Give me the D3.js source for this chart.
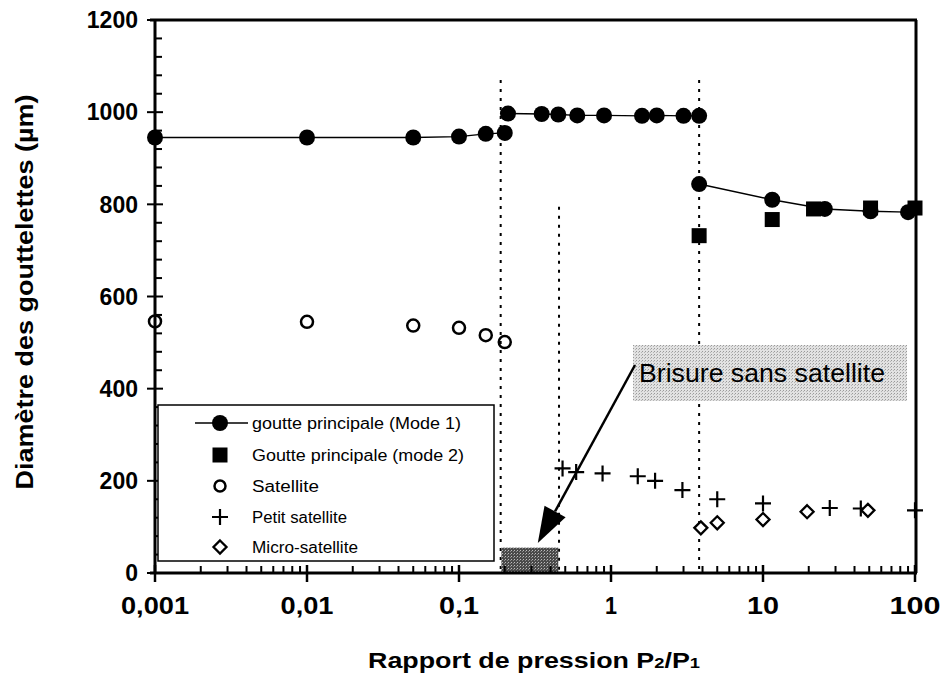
<!DOCTYPE html>
<html><head><meta charset="utf-8">
<script src="https://cdn.jsdelivr.net/npm/d3@7"></script>
<style>body{margin:0;background:#fff}</style>
</head><body>
<svg id="c" width="941" height="679"></svg>
<script>
// ---- data ----
const mode1a_x = [0.001, 0.01, 0.05, 0.1, 0.15, 0.2];
const mode1a_y = [945, 945, 945, 947, 953, 955];
const mode1b_x = [0.21, 0.35, 0.45, 0.6, 0.9, 1.6, 2.0, 3.0, 3.8];
const mode1b_y = [997, 996, 995, 993, 993, 992, 993, 992, 992];
const mode1c_x = [3.8, 11.5, 25.5, 51, 90];
const mode1c_y = [844, 810, 790, 785, 783];
const mode2_x = [3.8, 11.5, 21.5, 51, 100];
const mode2_y = [732, 767, 790, 792, 792];
const sat_x = [0.001, 0.01, 0.05, 0.1, 0.15, 0.2];
const sat_y = [546, 545, 537, 532, 516, 501];
const petit_x = [0.48, 0.59, 0.88, 1.5, 1.95, 2.95, 5, 10, 27.5, 44, 100];
const petit_y = [227, 219, 216, 210, 200, 180, 160, 151, 141, 140, 136];
const micro_x = [3.9, 5, 10, 19.5, 49];
const micro_y = [98, 109, 116, 133, 136];
const xTickVals = [0.001, 0.01, 0.1, 1, 10, 100];
const xTickLabels = ["0,001", "0,01", "0,1", "1", "10", "100"];
const yTickVals = [0, 200, 400, 600, 800, 1000, 1200];
const vlines_x = [0.188, 0.455, 3.8];
const vlines_top = [1070, 795, 1070];
const shade_x = [0.19, 0.45];
const shade_y = [0, 55];
const legendLabels = ["goutte principale (Mode 1)", "Goutte principale (mode 2)", "Satellite", "Petit satellite", "Micro-satellite"];
const annotText = "Brisure sans satellite";

// text widths (visual fitting only)
const xLabelW = [68, 53, 40, 12, 32, 51];
const legendW = [209, 212, 67, 95, 106];

// ---- scales ----
const svg = d3.select("#c");
const x = d3.scaleLog().domain([0.001, 100]).range([155, 915]);
const y = d3.scaleLinear().domain([0, 1200]).range([573, 20]);
const FONT = "Liberation Sans, Arial, sans-serif";

// patterns
const defs = svg.append("defs");
const pat = defs.append("pattern").attr("id","dots").attr("width",3).attr("height",3).attr("patternUnits","userSpaceOnUse");
pat.append("rect").attr("width",3).attr("height",3).attr("fill","#e2e2e2");
pat.append("rect").attr("x",0).attr("y",0).attr("width",1).attr("height",1).attr("fill","#9a9a9a");
pat.append("rect").attr("x",2).attr("y",1).attr("width",1).attr("height",1).attr("fill","#b5b5b5");
const pat2 = defs.append("pattern").attr("id","dark").attr("width",3).attr("height",3).attr("patternUnits","userSpaceOnUse");
pat2.append("rect").attr("width",3).attr("height",3).attr("fill","#4a4a4a");
pat2.append("rect").attr("x",1).attr("y",1).attr("width",1).attr("height",1).attr("fill","#bdbdbd");
pat2.append("rect").attr("x",0).attr("y",2).attr("width",1).attr("height",1).attr("fill","#8a8a8a");

// vertical dotted lines
vlines_x.forEach((v,i)=>{
  svg.append("line").attr("x1",x(v)).attr("x2",x(v)).attr("y1",y(vlines_top[i])).attr("y2",y(0))
    .attr("stroke","#000").attr("stroke-width",2).attr("stroke-dasharray","3,6");
});

// shaded region
svg.append("rect").attr("x",x(shade_x[0])).attr("y",y(shade_y[1]))
  .attr("width",x(shade_x[1])-x(shade_x[0])).attr("height",y(shade_y[0])-y(shade_y[1]))
  .attr("fill","url(#dark)");

// border top/right
svg.append("line").attr("x1",150).attr("x2",917).attr("y1",y(1200)).attr("y2",y(1200)).attr("stroke","#000").attr("stroke-width",3);
svg.append("line").attr("x1",916).attr("x2",916).attr("y1",y(1200)).attr("y2",y(0)).attr("stroke","#000").attr("stroke-width",3);

// axes
const gy = svg.append("g");
gy.append("line").attr("x1",x(0.001)).attr("x2",x(0.001)).attr("y1",y(1200)).attr("y2",y(0)).attr("stroke","#000").attr("stroke-width",3);
d3.range(0,1201,40).forEach(v=>{
  const major = v%200===0;
  gy.append("line").attr("x1", major? x(0.001)-8 : x(0.001)).attr("x2", x(0.001)+(major?8:7))
    .attr("y1",y(v)).attr("y2",y(v)).attr("stroke","#000").attr("stroke-width",2);
});
yTickVals.forEach(v=>{
  gy.append("text").attr("x",138).attr("y",y(v)).attr("dy","0.36em").attr("text-anchor","end")
    .attr("font-family",FONT).attr("font-weight","bold").attr("font-size",23)
    .attr("textLength", String(v).length*12.8).attr("lengthAdjust","spacingAndGlyphs").text(v);
});
const gx = svg.append("g");
gx.append("line").attr("x1",150).attr("x2",917).attr("y1",y(0)).attr("y2",y(0)).attr("stroke","#000").attr("stroke-width",3);
const minorX = [];
[0.001,0.01,0.1,1,10].forEach(d=>{ for(let k=2;k<=9;k++) minorX.push(d*k); });
minorX.forEach(v=>{
  gx.append("line").attr("x1",x(v)).attr("x2",x(v)).attr("y1",y(0)).attr("y2",y(0)-7).attr("stroke","#000").attr("stroke-width",2);
});
xTickVals.forEach((v,i)=>{
  gx.append("line").attr("x1",x(v)).attr("x2",x(v)).attr("y1",y(0)-8).attr("y2",y(0)+9).attr("stroke","#000").attr("stroke-width",2.5);
  gx.append("text").attr("x",x(v)).attr("y",614).attr("text-anchor","middle")
    .attr("font-family",FONT).attr("font-weight","bold").attr("font-size",23)
    .attr("textLength",xLabelW[i]).attr("lengthAdjust","spacingAndGlyphs").text(xTickLabels[i]);
});

// axis titles
svg.append("text").attr("transform","translate(33,292) rotate(-90)").attr("text-anchor","middle")
  .attr("font-family",FONT).attr("font-weight","bold").attr("font-size",23)
  .attr("textLength",395).attr("lengthAdjust","spacingAndGlyphs")
  .text("Diamètre des gouttelettes (µm)");
const xt = svg.append("text").attr("x",368).attr("y",668).attr("text-anchor","start")
  .attr("font-family",FONT).attr("font-weight","bold").attr("font-size",22)
  .attr("textLength",332).attr("lengthAdjust","spacingAndGlyphs");
xt.append("tspan").text("Rapport de pression P");
xt.append("tspan").attr("font-size",15).text("2");
xt.append("tspan").text("/P");
xt.append("tspan").attr("font-size",15).text("1");

// series
const line = d3.line().x(d=>x(d[0])).y(d=>y(d[1]));
[[mode1a_x,mode1a_y],[mode1b_x,mode1b_y],[mode1c_x,mode1c_y]].forEach(([xs,ys])=>{
  const pts = xs.map((v,i)=>[v,ys[i]]);
  svg.append("path").attr("d",line(pts)).attr("fill","none").attr("stroke","#000").attr("stroke-width",1.4);
  svg.selectAll(null).data(pts).enter().append("circle").attr("cx",d=>x(d[0])).attr("cy",d=>y(d[1])).attr("r",8).attr("fill","#000");
});
svg.selectAll(null).data(mode2_x.map((v,i)=>[v,mode2_y[i]])).enter().append("rect")
  .attr("x",d=>x(d[0])-7.5).attr("y",d=>y(d[1])-7.5).attr("width",15).attr("height",15).attr("fill","#000");
svg.selectAll(null).data(sat_x.map((v,i)=>[v,sat_y[i]])).enter().append("circle")
  .attr("cx",d=>x(d[0])).attr("cy",d=>y(d[1])).attr("r",6).attr("fill","none").attr("stroke","#000").attr("stroke-width",2.5);
svg.selectAll(null).data(petit_x.map((v,i)=>[v,petit_y[i]])).enter().append("path")
  .attr("transform",d=>`translate(${x(d[0])},${y(d[1])})`)
  .attr("d","M-8,0H8M0,-8V8").attr("stroke","#000").attr("stroke-width",2.2).attr("fill","none");
svg.selectAll(null).data(micro_x.map((v,i)=>[v,micro_y[i]])).enter().append("path")
  .attr("transform",d=>`translate(${x(d[0])},${y(d[1])})`)
  .attr("d","M0,-6.5L6.5,0L0,6.5L-6.5,0Z").attr("stroke","#000").attr("stroke-width",2.3).attr("fill","#fff");

// annotation
svg.append("rect").attr("x",633).attr("y",345).attr("width",274).attr("height",56).attr("fill","url(#dots)");
svg.append("text").attr("x",639).attr("y",382).attr("font-family",FONT).attr("font-size",25).attr("fill","#000")
  .attr("textLength",246).attr("lengthAdjust","spacingAndGlyphs").text(annotText);
// arrow
const ax1 = 635, ay1 = 365, ax2 = x(0.33), ay2 = y(65);
const ang = Math.atan2(ay2-ay1, ax2-ax1);
const hl = 36, hw = 12;
const bx = ax2 - hl*Math.cos(ang), by = ay2 - hl*Math.sin(ang);
svg.append("line").attr("x1",ax1).attr("y1",ay1).attr("x2",bx).attr("y2",by).attr("stroke","#000").attr("stroke-width",2.5);
svg.append("path").attr("d",`M${ax2},${ay2}L${bx+hw*Math.sin(ang)},${by-hw*Math.cos(ang)}L${bx-hw*Math.sin(ang)},${by+hw*Math.cos(ang)}Z`).attr("fill","#000");

// legend
const lg = svg.append("g");
lg.append("rect").attr("x",158).attr("y",405).attr("width",336).attr("height",156).attr("fill","#fff").attr("stroke","#000").attr("stroke-width",1.5);
const ly = [423, 455, 486, 517, 547];
const sx = 220;
legendLabels.forEach((t,i)=>{
  lg.append("text").attr("x",252).attr("y",ly[i]).attr("dy","0.35em").attr("font-family",FONT)
    .attr("font-size",16).attr("textLength",legendW[i]).attr("lengthAdjust","spacingAndGlyphs").text(t);
});
lg.append("line").attr("x1",195).attr("x2",248).attr("y1",ly[0]).attr("y2",ly[0]).attr("stroke","#000").attr("stroke-width",1.4);
lg.append("circle").attr("cx",sx).attr("cy",ly[0]).attr("r",8).attr("fill","#000");
lg.append("rect").attr("x",sx-7.5).attr("y",ly[1]-7.5).attr("width",15).attr("height",15).attr("fill","#000");
lg.append("circle").attr("cx",sx).attr("cy",ly[2]).attr("r",5.5).attr("fill","none").attr("stroke","#000").attr("stroke-width",2.5);
lg.append("path").attr("transform",`translate(${sx},${ly[3]})`).attr("d","M-8,0H8M0,-8V8").attr("stroke","#000").attr("stroke-width",2.2);
lg.append("path").attr("transform",`translate(${sx},${ly[4]})`).attr("d","M0,-6.5L6.5,0L0,6.5L-6.5,0Z").attr("stroke","#000").attr("stroke-width",2.3).attr("fill","#fff");
</script>
</body></html>
